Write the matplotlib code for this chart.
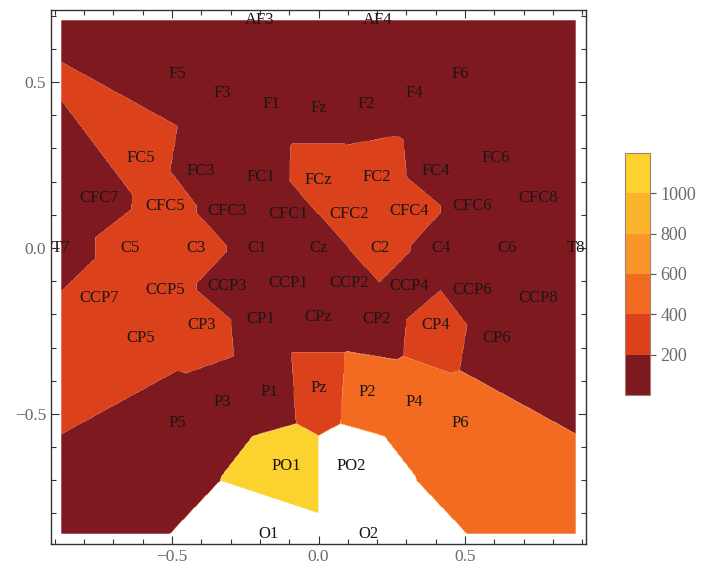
import numpy as np
import matplotlib
matplotlib.use("Agg")
import matplotlib.pyplot as plt
from matplotlib.ticker import MultipleLocator

plt.rcParams["font.family"] = ["Liberation Serif", "DejaVu Serif"]

# electrode names, positions and values
names = [
    "AF3", "AF4",
    "F5", "F3", "F1", "Fz", "F2", "F4", "F6",
    "FC5", "FC3", "FC1", "FCz", "FC2", "FC4", "FC6",
    "CFC7", "CFC5", "CFC3", "CFC1", "CFC2", "CFC4", "CFC6", "CFC8",
    "T7", "C5", "C3", "C1", "Cz", "C2", "C4", "C6", "T8",
    "CCP7", "CCP5", "CCP3", "CCP1", "CCP2", "CCP4", "CCP6", "CCP8",
    "CP5", "CP3", "CP1", "CPz", "CP2", "CP4", "CP6",
    "P5", "P3", "P1", "Pz", "P2", "P4", "P6",
    "PO1", "PO2",
    "O1", "O2",
]
xs = [
    -0.20, 0.20,
    -0.483, -0.327, -0.162, 0.0, 0.162, 0.327, 0.483,
    -0.606, -0.40, -0.198, 0.0, 0.198, 0.40, 0.606,
    -0.748, -0.523, -0.31, -0.104, 0.104, 0.31, 0.523, 0.748,
    -0.877, -0.644, -0.418, -0.208, 0.0, 0.208, 0.418, 0.644, 0.877,
    -0.748, -0.523, -0.31, -0.104, 0.104, 0.31, 0.523, 0.748,
    -0.606, -0.40, -0.198, 0.0, 0.198, 0.40, 0.606,
    -0.483, -0.327, -0.166, 0.0, 0.166, 0.327, 0.483,
    -0.11, 0.11,
    -0.17, 0.17,
]
ys = [
    0.686, 0.686,
    0.524, 0.468, 0.435, 0.423, 0.435, 0.468, 0.524,
    0.272, 0.233, 0.214, 0.205, 0.214, 0.233, 0.272,
    0.151, 0.127, 0.112, 0.103, 0.103, 0.112, 0.127, 0.151,
    0.0, 0.0, 0.0, 0.0, 0.0, 0.0, 0.0, 0.0, 0.0,
    -0.151, -0.127, -0.115, -0.106, -0.106, -0.115, -0.127, -0.151,
    -0.272, -0.233, -0.214, -0.208, -0.214, -0.233, -0.272,
    -0.526, -0.465, -0.435, -0.423, -0.435, -0.465, -0.526,
    -0.656, -0.656,
    -0.861, -0.861,
]
values = [
    110, 95,
    150, 120, 90, 80, 85, 110, 140,
    310, 170, 130, 260, 280, 160, 150,
    180, 330, 175, 140, 250, 270, 150, 120,
    160, 320, 290, 150, 120, 240, 130, 110, 100,
    340, 350, 190, 160, 180, 170, 140, 110,
    360, 300, 170, 150, 160, 260, 130,
    180, 170, 190, 380, 520, 480, 450,
    1100, 1400,
    1600, 1500,
]

levels = [0, 200, 400, 600, 800, 1000, 1200]
band_colors = ["#7e1a1f", "#db421c", "#f26b21", "#f8962a", "#fbb52c", "#fcd22e"]

px = np.array(xs)
py = np.array(ys)
pv = np.array(values, dtype=float)

# nearest-electrode field over the bounding box of the electrodes
gx = np.linspace(px.min(), px.max(), 700)
gy = np.linspace(py.min(), py.max(), 620)
GX, GY = np.meshgrid(gx, gy)
d2 = (GX[..., None] - px) ** 2 + (GY[..., None] - py) ** 2
Z = pv[np.argmin(d2, axis=-1)]

fig = plt.figure(figsize=(7.17, 5.64), dpi=100)
ax = fig.add_axes([51 / 717, 20 / 564, 535 / 717, 534 / 564])

cs = ax.contourf(GX, GY, Z, levels=levels, colors=band_colors, antialiased=True)

for n, x, y in zip(names, xs, ys):
    ax.text(x, y, n, ha="center", va="center", fontsize=12, color="#1e1515")

# 2 % padding like the original frame
padx = 0.02 * (px.max() - px.min())
pady = 0.02 * (py.max() - py.min())
ax.set_xlim(px.min() - padx, px.max() + padx)
ax.set_ylim(py.min() - pady, py.max() + pady)

ax.set_xticks([-0.5, 0.0, 0.5])
ax.set_yticks([-0.5, 0.0, 0.5])
ax.xaxis.set_minor_locator(MultipleLocator(0.1))
ax.yaxis.set_minor_locator(MultipleLocator(0.1))
ax.tick_params(which="both", direction="in", top=True, right=True,
               color="#333333", width=0.8, labelsize=12.5, labelcolor="#6a6a6a")
ax.tick_params(which="major", length=6)
ax.tick_params(which="minor", length=3.5)
for s in ax.spines.values():
    s.set_color("#333333")
    s.set_linewidth(1.0)

# colour bar
cax = fig.add_axes([625 / 717, 169 / 564, 25 / 717, 242 / 564])
cb = fig.colorbar(cs, cax=cax, ticks=[200, 400, 600, 800, 1000])
cb.outline.set_edgecolor("#a08070")
cb.outline.set_linewidth(0.8)
cax.tick_params(direction="out", length=4, width=0.8, color="#555555",
                labelsize=13, labelcolor="#6a6a6a")

fig.savefig("out.png", dpi=100)
